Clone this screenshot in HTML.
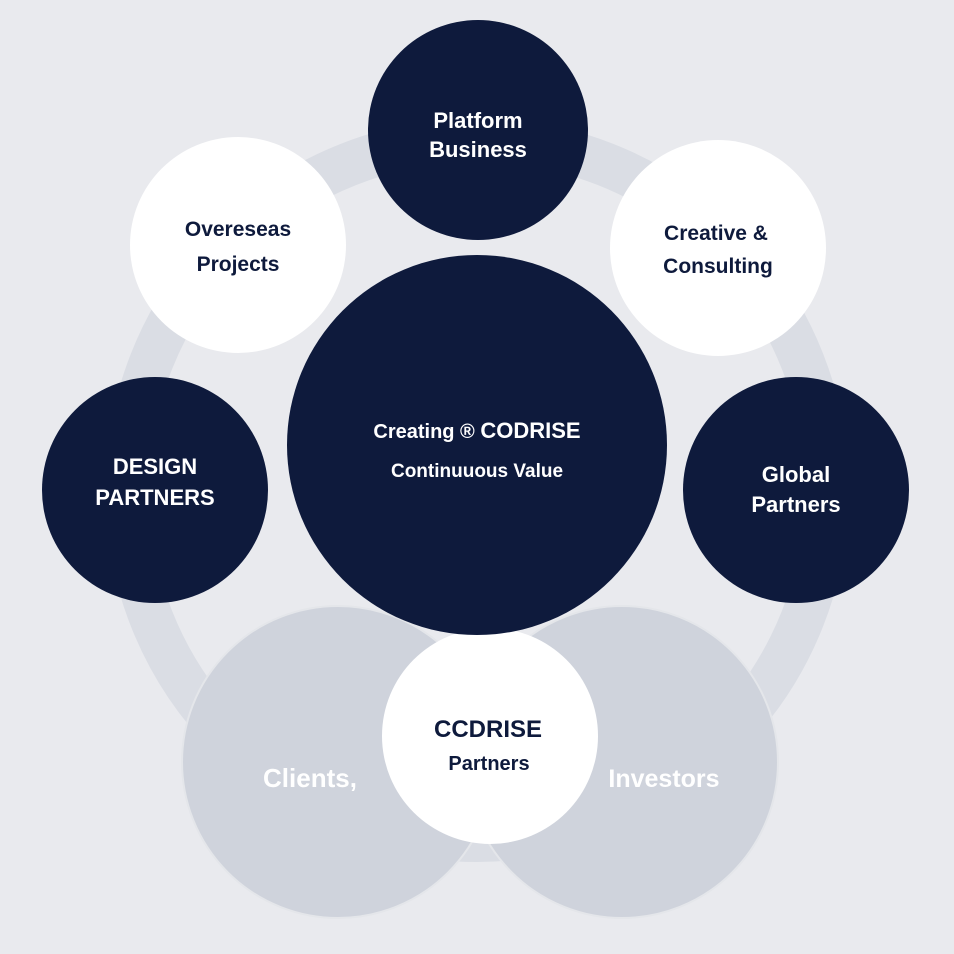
<!DOCTYPE html>
<html><head><meta charset="utf-8"><style>
html,body{margin:0;padding:0;background:#e9eaee}
svg{display:block}
text{font-family:"Liberation Sans","DejaVu Sans",sans-serif;font-weight:bold;text-anchor:middle}
</style></head><body>
<svg width="954" height="954" viewBox="0 0 954 954">
<rect width="954" height="954" fill="#e9eaee"/>
<circle cx="477" cy="490" r="350" fill="none" stroke="#dadde4" stroke-width="44"/>
<circle cx="338" cy="762" r="156" fill="#cfd3dc" stroke="#e4e6ea" stroke-width="2"/>
<circle cx="622" cy="762" r="156" fill="#cfd3dc" stroke="#e4e6ea" stroke-width="2"/>
<circle cx="478" cy="130" r="110" fill="#0e1a3c"/>
<circle cx="238" cy="245" r="108" fill="#ffffff"/>
<circle cx="718" cy="248" r="108" fill="#ffffff"/>
<circle cx="155" cy="490" r="113" fill="#0e1a3c"/>
<circle cx="796" cy="490" r="113" fill="#0e1a3c"/>
<circle cx="490" cy="736" r="108" fill="#ffffff"/>
<circle cx="477" cy="445" r="190" fill="#0e1a3c"/>
<g fill="#ffffff" font-size="22">
<text x="478" y="128">Platform</text>
<text x="478" y="157">Business</text>
<text x="155" y="474">DESIGN</text>
<text x="155" y="505">PARTNERS</text>
<text x="796" y="482">Global</text>
<text x="796" y="512">Partners</text>
<text x="477" y="438" font-size="20">Creating ® <tspan font-size="22">CODRISE</tspan></text>
<text x="477" y="477" font-size="19">Continuuous Value</text>
<text x="310" y="787" font-size="26">Clients,</text>
<text x="664" y="787" font-size="25">Investors</text>
</g>
<g fill="#0e1a3c" font-size="21">
<text x="238" y="236">Overeseas</text>
<text x="238" y="271">Projects</text>
<text x="716" y="240">Creative &amp;</text>
<text x="718" y="273">Consulting</text>
<text x="488" y="737" font-size="24">CCDRISE</text>
<text x="489" y="770" font-size="20">Partners</text>
</g>
</svg>
</body></html>
